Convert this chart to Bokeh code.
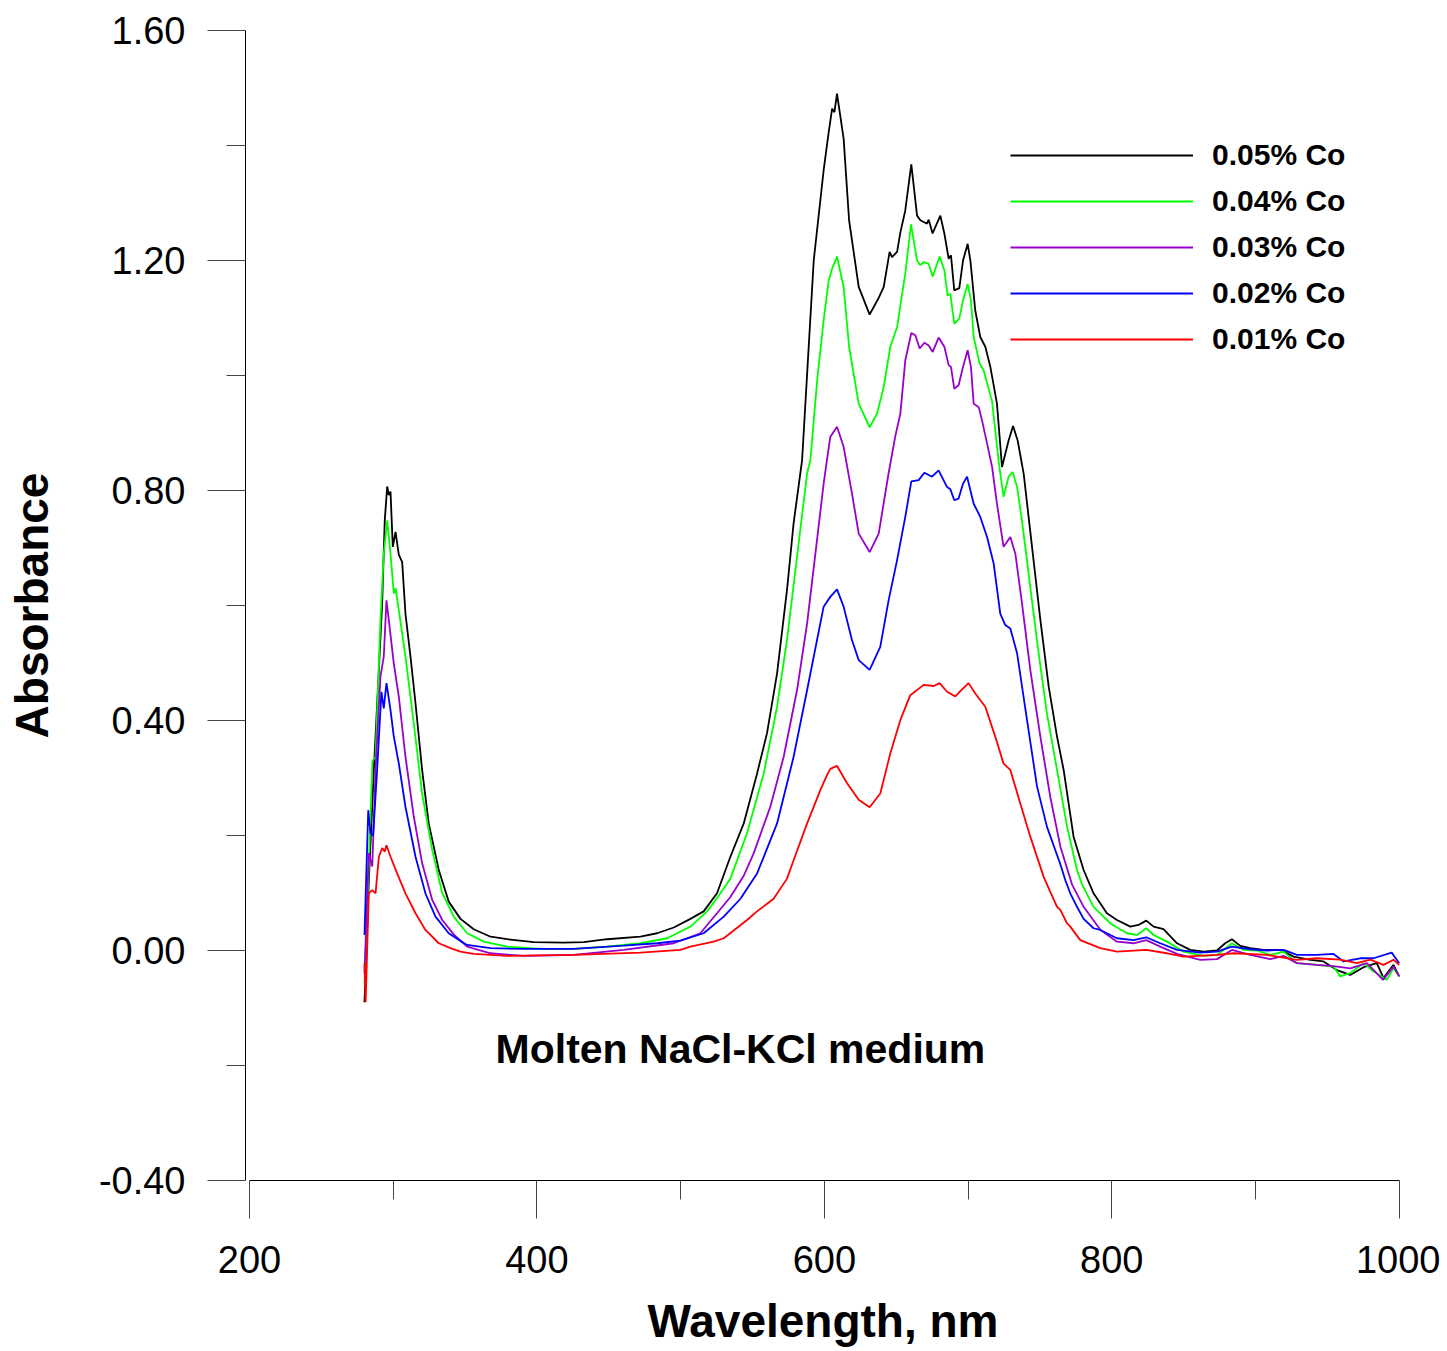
from bokeh.plotting import figure
from bokeh.models import Range1d, FixedTicker, PrintfTickFormatter, Legend, LegendItem, Label
from bokeh.embed import file_html
from bokeh.resources import INLINE

# ---------------- data ----------------
series_labels = ["0.05% Co", "0.04% Co", "0.03% Co", "0.02% Co", "0.01% Co"]
series_colors = ["#000000", "#00FF00", "#9900CC", "#0000FF", "#FF0000"]

wl_005 = [280.0, 283.0, 286.5, 290.0, 292.3, 294.1, 295.8, 296.9, 298.1, 299.7, 301.6, 303.9, 306.2,
          308.5, 312.0, 315.5, 320.1, 324.7, 331.7, 338.6, 346.8, 356.0, 367.7, 379.3, 397.8, 418.6,
          432.6, 448.8, 472.0, 483.6, 495.2, 506.8, 516.0, 525.3, 534.6, 543.9, 553.2, 560.1, 567.1,
          574.0, 578.6, 584.5, 592.6, 599.5, 603.0, 605.4, 607.0, 608.8, 613.4, 617.2, 623.9, 631.5,
          637.8, 641.3, 645.4, 647.1, 650.6, 652.9, 656.3, 660.5, 664.5, 666.8, 671.4, 672.6, 675.3,
          680.7, 683.5, 686.5, 688.1, 690.4, 693.9, 696.5, 699.7, 701.6, 705.0, 708.5, 712.0, 715.5,
          720.1, 723.6, 728.2, 731.3, 734.5, 738.7, 744.5, 750.3, 756.1, 761.9, 766.5, 773.4, 780.4,
          787.3, 796.6, 803.6, 812.9, 818.6, 824.0, 829.1, 836.0, 845.4, 854.6, 863.9, 873.2, 878.9,
          883.6, 889.4, 896.3, 905.6, 917.2, 926.5, 938.1, 947.3, 956.6, 965.9, 975.2, 984.4, 989.1,
          996.0, 1000.0]
abs_005 = [-0.090, 0.120, 0.314, 0.488, 0.604, 0.748, 0.807, 0.792, 0.798, 0.702, 0.728, 0.688, 0.676,
           0.586, 0.511, 0.430, 0.314, 0.221, 0.140, 0.085, 0.055, 0.037, 0.024, 0.0196, 0.0144, 0.0137,
           0.0144, 0.0196, 0.024, 0.030, 0.040, 0.055, 0.068, 0.0995, 0.163, 0.221, 0.308, 0.378, 0.482,
           0.627, 0.743, 0.853, 1.200, 1.357, 1.423, 1.464, 1.458, 1.490, 1.412, 1.270, 1.154, 1.106,
           1.135, 1.154, 1.215, 1.206, 1.215, 1.249, 1.287, 1.367, 1.278, 1.270, 1.264, 1.271, 1.247,
           1.278, 1.247, 1.203, 1.209, 1.148, 1.152, 1.200, 1.229, 1.200, 1.113, 1.067, 1.050, 1.015,
           0.951, 0.841, 0.887, 0.912, 0.887, 0.829, 0.702, 0.575, 0.459, 0.372, 0.314, 0.198, 0.140,
           0.0995, 0.0648, 0.053, 0.0415, 0.0444, 0.052, 0.0415, 0.037, 0.0126, 0.001, -0.002, 0.000, 0.0126,
           0.0196, 0.008, 0.004, 0.001, 0.001, -0.0107, -0.0164, -0.019, -0.034, -0.0425, -0.029, -0.022, -0.048,
           -0.025, -0.045]

wl_004 = [280.0, 283.0, 285.5, 287.7, 291.1, 293.4, 295.8, 298.1, 300.4, 301.6, 303.9, 308.5, 314.3,
          320.1, 327.1, 334.1, 342.1, 351.4, 363.0, 379.3, 402.4, 425.6, 448.8, 472.0, 490.6, 499.8,
          506.8, 518.4, 527.7, 534.6, 546.2, 557.8, 567.1, 574.0, 581.0, 588.0, 590.3, 595.0, 599.5,
          603.0, 605.4, 608.8, 613.4, 617.2, 623.9, 631.5, 636.7, 641.3, 645.9, 650.6, 656.3, 660.3,
          664.5, 666.8, 669.1, 672.6, 675.4, 680.2, 683.5, 685.8, 687.7, 690.4, 693.9, 696.5, 699.7,
          702.0, 703.9, 708.0, 710.8, 716.7, 721.3, 724.7, 728.2, 731.0, 734.1, 737.5, 743.3, 749.1,
          754.9, 761.9, 768.9, 775.8, 779.3, 787.3, 799.0, 810.6, 817.5, 824.0, 829.1, 838.4, 850.0,
          863.9, 873.2, 883.6, 891.7, 901.0, 910.3, 919.5, 928.8, 942.7, 954.3, 958.9, 965.9, 975.2,
          982.1, 991.4, 996.0, 1000.0]
abs_004 = [-0.060, 0.150, 0.330, 0.337, 0.575, 0.690, 0.748, 0.690, 0.621, 0.630, 0.592, 0.511, 0.395,
           0.273, 0.175, 0.100, 0.059, 0.030, 0.0154, 0.0067, 0.0027, 0.0027, 0.0067, 0.0126, 0.0213, 0.033,
           0.0415, 0.068, 0.0995, 0.125, 0.204, 0.308, 0.424, 0.540, 0.685, 0.830, 0.853, 0.992, 1.096,
           1.165, 1.186, 1.207, 1.154, 1.050, 0.951, 0.910, 0.934, 0.980, 1.050, 1.084, 1.177, 1.263,
           1.200, 1.192, 1.197, 1.194, 1.172, 1.207, 1.183, 1.139, 1.142, 1.090, 1.099, 1.131, 1.159,
           1.131, 1.067, 1.021, 1.009, 0.955, 0.850, 0.789, 0.824, 0.832, 0.806, 0.748, 0.632, 0.517,
           0.412, 0.314, 0.215, 0.140, 0.115, 0.076, 0.047, 0.030, 0.027, 0.0387, 0.027, 0.0154, -0.002,
           -0.0094, -0.0077, 0.0126, 0.001, 0.000, -0.0077, -0.002, -0.022, -0.025, -0.028, -0.045, -0.0395, -0.022,
           -0.0367, -0.051, -0.031, -0.045]

wl_003 = [280.0, 283.0, 285.4, 287.7, 291.1, 293.4, 295.3, 296.9, 300.4, 303.9, 308.5, 314.3, 320.1,
          327.1, 334.1, 342.1, 351.4, 367.7, 390.8, 425.6, 460.4, 495.2, 513.7, 525.3, 534.6, 543.9,
          550.8, 562.4, 571.7, 581.0, 588.0, 594.9, 599.5, 601.8, 604.1, 608.8, 613.4, 619.2, 623.9,
          631.5, 637.8, 644.7, 649.4, 652.9, 656.3, 660.5, 663.3, 666.3, 669.6, 672.6, 675.4, 679.5,
          683.5, 686.5, 688.1, 690.4, 693.4, 696.5, 699.7, 702.0, 703.9, 707.4, 709.7, 713.2, 716.7,
          720.1, 724.7, 729.4, 732.9, 737.5, 743.3, 750.3, 757.2, 764.2, 772.3, 780.4, 792.0, 803.6,
          815.2, 824.0, 833.7, 845.4, 861.6, 873.2, 883.6, 896.3, 910.3, 919.5, 928.8, 942.7, 954.3,
          965.9, 977.5, 988.8, 996.0, 1000.0]
abs_003 = [-0.040, 0.169, 0.146, 0.314, 0.476, 0.511, 0.609, 0.575, 0.499, 0.441, 0.337, 0.233, 0.152,
           0.088, 0.053, 0.028, 0.0067, -0.0048, -0.0094, -0.0077, 0.001, 0.0126, 0.030, 0.0648, 0.093, 0.130,
           0.169, 0.250, 0.337, 0.453, 0.569, 0.714, 0.812, 0.853, 0.893, 0.911, 0.876, 0.795, 0.725,
           0.693, 0.725, 0.830, 0.895, 0.934, 1.026, 1.074, 1.070, 1.047, 1.057, 1.052, 1.041, 1.066,
           1.050, 1.018, 1.015, 0.977, 0.983, 1.015, 1.044, 1.015, 0.951, 0.945, 0.922, 0.882, 0.841,
           0.777, 0.702, 0.719, 0.690, 0.604, 0.488, 0.372, 0.267, 0.181, 0.115, 0.076, 0.036, 0.0154,
           0.0126, 0.018, 0.0067, -0.006, -0.0164, -0.015, 0.001, -0.0077, -0.015, -0.0094, -0.022, -0.025, -0.027,
           -0.031, -0.022, -0.051, -0.028, -0.045]

wl_002 = [280.0, 282.6, 284.2, 286.0, 288.8, 291.8, 293.4, 295.3, 298.1, 300.4, 303.9, 308.5, 315.5,
          322.4, 329.4, 338.6, 347.8, 351.4, 367.7, 390.8, 425.6, 460.4, 483.6, 499.8, 516.0, 530.0,
          541.6, 553.2, 567.1, 578.6, 588.0, 594.9, 599.5, 604.1, 608.8, 613.4, 619.2, 623.9, 631.5,
          638.9, 644.7, 650.6, 656.3, 660.5, 665.6, 669.6, 674.9, 679.5, 685.4, 687.7, 690.4, 693.4,
          696.5, 699.3, 703.9, 708.5, 713.2, 717.8, 722.4, 725.9, 729.4, 734.1, 741.0, 748.0, 754.9,
          764.2, 767.7, 771.1, 775.8, 780.4, 787.3, 792.0, 803.6, 815.2, 824.0, 833.7, 845.4, 861.6,
          873.2, 883.6, 896.3, 907.9, 919.5, 928.8, 942.7, 954.3, 961.3, 972.9, 982.1, 994.8, 998.3,
          1000.0]
abs_002 = [0.027, 0.244, 0.204, 0.200, 0.314, 0.450, 0.421, 0.465, 0.418, 0.372, 0.325, 0.250, 0.163,
           0.0995, 0.059, 0.030, 0.015, 0.0097, 0.004, 0.0027, 0.0027, 0.0085, 0.0126, 0.017, 0.030, 0.059,
           0.090, 0.134, 0.221, 0.337, 0.453, 0.540, 0.598, 0.615, 0.628, 0.598, 0.540, 0.505, 0.488,
           0.528, 0.609, 0.679, 0.754, 0.816, 0.818, 0.831, 0.824, 0.835, 0.806, 0.802, 0.783, 0.786,
           0.812, 0.824, 0.777, 0.754, 0.719, 0.673, 0.586, 0.566, 0.560, 0.517, 0.401, 0.285, 0.215,
           0.150, 0.122, 0.0995, 0.076, 0.055, 0.0387, 0.0357, 0.0213, 0.018, 0.023, 0.0126, 0.001, -0.0037,
           -0.002, 0.0067, 0.0022, 0.000, 0.001, -0.0077, -0.0077, -0.006, -0.019, -0.0135, -0.0135, -0.0037, -0.016,
           -0.022]

wl_001 = [280.0, 280.8, 283.0, 285.4, 287.7, 290.0, 292.3, 294.1, 295.3, 298.1, 302.7, 308.5, 315.5,
          322.4, 331.7, 339.8, 346.8, 356.0, 379.3, 425.6, 472.0, 499.8, 506.8, 523.0, 530.0, 546.2,
          553.1, 564.7, 574.0, 578.6, 588.0, 597.2, 601.8, 604.1, 608.8, 615.8, 623.9, 631.5, 638.9,
          645.9, 652.9, 659.8, 669.1, 676.1, 680.2, 685.4, 691.1, 695.8, 700.4, 705.0, 712.0, 718.9,
          724.7, 729.4, 736.3, 743.3, 752.6, 757.2, 761.9, 764.2, 768.9, 771.1, 778.1, 792.0, 803.6,
          824.0, 838.4, 850.0, 873.2, 884.8, 907.9, 928.8, 942.7, 958.9, 970.5, 979.8, 989.1, 996.0,
          1000.0]
abs_001 = [-0.022, -0.090, 0.0995, 0.105, 0.0995, 0.163, 0.178, 0.172, 0.183, 0.163, 0.134, 0.0995, 0.0648,
           0.0357, 0.0126, 0.004, -0.002, -0.006, -0.0094, -0.0077, -0.0037, 0.001, 0.0067, 0.0154, 0.0213, 0.053,
           0.068, 0.090, 0.125, 0.157, 0.221, 0.279, 0.305, 0.316, 0.321, 0.291, 0.262, 0.249, 0.273,
           0.343, 0.401, 0.444, 0.462, 0.460, 0.465, 0.450, 0.442, 0.454, 0.465, 0.447, 0.424, 0.372,
           0.325, 0.314, 0.256, 0.198, 0.128, 0.102, 0.076, 0.0705, 0.047, 0.0415, 0.018, 0.004, -0.002,
           0.001, -0.0048, -0.0107, -0.0077, -0.0048, -0.0077, -0.0164, -0.0135, -0.016, -0.022, -0.016, -0.025, -0.016,
           -0.025]

x_major_ticks = [200, 400, 600, 800, 1000]
x_minor_ticks = [300, 500, 700, 900]
y_major_ticks = [-0.4, 0.0, 0.4, 0.8, 1.2, 1.6]
y_minor_ticks = [-0.2, 0.2, 0.6, 1.0, 1.4]

x_title = "Wavelength, nm"
y_title = "Absorbance"
note_text = "Molten NaCl-KCl medium"

# ---------------- figure ----------------
FONT = "Liberation Sans"

p = figure(width=1440, height=1349, output_backend="svg", toolbar_location=None,
           x_range=Range1d(197.2, 1000.9), y_range=Range1d(-0.4, 1.6),
           min_border_left=245, min_border_right=40, min_border_top=30, min_border_bottom=168)
p.outline_line_color = None
p.xgrid.visible = False
p.ygrid.visible = False
p.background_fill_color = "white"
p.border_fill_color = "white"

renderers = []
for wl, ab, col in [(wl_005, abs_005, series_colors[0]), (wl_004, abs_004, series_colors[1]),
                    (wl_003, abs_003, series_colors[2]), (wl_002, abs_002, series_colors[3]),
                    (wl_001, abs_001, series_colors[4])]:
    renderers.append(p.line(wl, ab, line_color=col, line_width=1.8))

# x axis
xa = p.xaxis[0]
xa.ticker = FixedTicker(ticks=x_major_ticks, minor_ticks=x_minor_ticks)
xa.bounds = (200, 1000)
xa.axis_line_color = "black"
xa.major_tick_out = 38
xa.major_tick_in = 0
xa.minor_tick_out = 19
xa.minor_tick_in = 0
xa.major_tick_line_color = "#444444"
xa.minor_tick_line_color = "#444444"
xa.major_label_text_font = FONT
xa.major_label_text_font_size = "38px"
xa.major_label_text_color = "black"
xa.major_label_standoff = 27
xa.axis_label = x_title
xa.axis_label_text_font = FONT
xa.axis_label_text_font_size = "46px"
xa.axis_label_text_font_style = "bold"
xa.axis_label_text_color = "black"
xa.axis_label_standoff = 19

# y axis
ya = p.yaxis[0]
ya.ticker = FixedTicker(ticks=y_major_ticks, minor_ticks=y_minor_ticks)
ya.formatter = PrintfTickFormatter(format="%.2f")
ya.bounds = (-0.4, 1.6)
ya.axis_line_color = "black"
ya.major_tick_out = 38
ya.major_tick_in = 0
ya.minor_tick_out = 19
ya.minor_tick_in = 0
ya.major_tick_line_color = "#444444"
ya.minor_tick_line_color = "#444444"
ya.major_label_text_font = FONT
ya.major_label_text_font_size = "38px"
ya.major_label_text_color = "black"
ya.major_label_standoff = 22
ya.axis_label = y_title
ya.axis_label_text_font = FONT
ya.axis_label_text_font_size = "46px"
ya.axis_label_text_font_style = "bold"
ya.axis_label_text_color = "black"
ya.axis_label_standoff = 38

# legend
legend = Legend(items=[LegendItem(label=lab, renderers=[r]) for lab, r in zip(series_labels, renderers)],
                location=(765, 818), orientation="vertical",
                glyph_width=183, glyph_height=46, label_height=46, label_width=150,
                label_standoff=19, spacing=0, padding=0, margin=0,
                border_line_color=None, background_fill_alpha=0,
                label_text_font=FONT, label_text_font_size="30px", label_text_font_style="bold",
                label_text_color="black", label_text_baseline="middle")
p.add_layout(legend)

# annotation
p.add_layout(Label(x=541.6, y=-0.172, text=note_text, text_align="center", text_baseline="alphabetic",
                   text_font=FONT, text_font_size="41px", text_font_style="bold", text_color="black"))

open("out.html", "w").write(file_html(p, INLINE))
